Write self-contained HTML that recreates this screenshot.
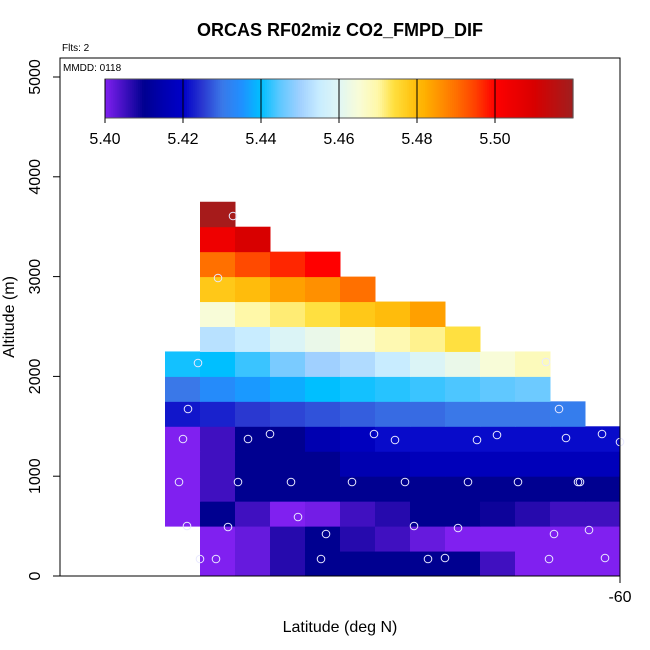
<!DOCTYPE html>
<html><head><meta charset="utf-8"><style>
body{margin:0;background:#fff;font-family:"Liberation Sans",sans-serif}
svg{display:block}
</style></head><body>
<svg id="c" width="650" height="650" xmlns="http://www.w3.org/2000/svg"></svg>
<script>
const altEdges=[0,250,500,750,1000,1250,1500,1750,2000,2250,2500,2750,3000,3250,3500,3750];
const colLeftLat=[-63.25,-63.0,-62.75,-62.5,-62.25,-62.0,-61.75,-61.5,-61.25,-61.0,-60.75,-60.5,-60.25];
const cellW=0.25;
const rowVals=[
[null,5.400,5.402,5.407,5.410,5.410,5.410,5.410,5.410,5.405,5.400,5.400,5.400],
[null,5.400,5.402,5.407,5.410,5.407,5.405,5.402,5.400,5.400,5.400,5.400,5.400],
[5.400,5.410,5.405,5.400,5.401,5.405,5.407,5.410,5.410,5.409,5.407,5.405,5.405],
[5.400,5.405,5.410,5.410,5.410,5.410,5.410,5.410,5.410,5.410,5.410,5.410,5.410],
[5.400,5.405,5.410,5.410,5.410,5.415,5.415,5.417,5.417,5.417,5.417,5.417,5.417],
[5.400,5.405,5.410,5.410,5.415,5.418,5.421,5.421,5.421,5.421,5.421,5.421,5.421],
[5.422,5.423,5.425,5.426,5.427,5.428,5.429,5.429,5.430,5.430,5.430,5.431,null],
[5.430,5.434,5.436,5.438,5.440,5.441,5.442,5.443,5.444,5.445,5.446,null,null],
[5.441,5.440,5.443,5.447,5.450,5.452,5.455,5.459,5.462,5.465,5.468,null,null],
[null,5.453,5.455,5.459,5.462,5.465,5.469,5.471,5.474,null,null,null,null],
[null,5.465,5.470,5.472,5.474,5.478,5.480,5.484,null,null,null,null,null],
[null,5.478,5.480,5.484,5.486,5.490,null,null,null,null,null,null,null],
[null,5.490,5.494,5.497,5.500,null,null,null,null,null,null,null,null],
[null,5.504,5.510,null,null,null,null,null,null,null,null,null,null],
[null,5.519,null,null,null,null,null,null,null,null,null,null,null]
];
const ptX=[233,218,198,188,183,248,270,374,395,477,497,566,602,620,179,238,291,352,405,468,518,578,580,187,228,298,326,414,458,554,589,200,216,321,428,445,549,605,559,546];
const ptY=[216,278,363,409,439,439,434,434,440,440,435,438,434,442,482,482,482,482,482,482,482,482,482,526,527,517,534,526,528,534,530,559,559,559,559,558,559,558,409,362];
const yTicks=[0,1000,2000,3000,4000,5000];
const cbTicks=[5.40,5.42,5.44,5.46,5.48,5.50];
const cbMin=5.40,cbMax=5.52;
const stops=[[5.400,'#8020f0'],[5.405,'#4010c0'],[5.410,'#000090'],[5.415,'#0000b0'],[5.420,'#0000c8'],[5.425,'#2a38d0'],[5.430,'#3a78e8'],[5.435,'#2090ff'],[5.440,'#00bfff'],[5.445,'#60c8ff'],[5.450,'#a0d0ff'],[5.455,'#c8ecff'],[5.460,'#e0f6f4'],[5.465,'#f8fcd8'],[5.470,'#fff8a8'],[5.474,'#ffe040'],[5.478,'#ffc818'],[5.482,'#ffb000'],[5.486,'#ff9000'],[5.490,'#ff7000'],[5.495,'#ff4000'],[5.500,'#ff0000'],[5.510,'#d80000'],[5.520,'#a01e1e']];
const NS='http://www.w3.org/2000/svg';
const svg=document.getElementById('c');
const P={l:60,r:620,t:58,b:576};
const xS=lat=>620+(lat+60)*140;
const yS=a=>576-a*0.0998;
const latOfPx=px=>-60+(px-620)/140;
const altOfPx=py=>(576-py)/0.0998;
const cbX=v=>105+(v-cbMin)/(cbMax-cbMin)*468;
function hex(c){return [1,3,5].map(i=>parseInt(c.substr(i,2),16));}
function cmap(v){
 if(v<=stops[0][0])return stops[0][1];
 for(let i=1;i<stops.length;i++){if(v<=stops[i][0]){const a=stops[i-1],b=stops[i];const t=(v-a[0])/(b[0]-a[0]);const ca=hex(a[1]),cb=hex(b[1]);return 'rgb('+ca.map((x,k)=>Math.round(x+(cb[k]-x)*t)).join(',')+')';}}
 return stops[stops.length-1][1];
}
function mk(tag,attrs,name,txt){const e=document.createElementNS(NS,tag);for(const k in attrs)e.setAttribute(k,attrs[k]);
 
 
 if(txt!==undefined)e.textContent=txt;svg.appendChild(e);return e;}
rowVals.forEach((row,r)=>row.forEach((v,c)=>{if(v===null)return;
 const x0=xS(colLeftLat[c]),x1=xS(colLeftLat[c]+cellW),y0=yS(altEdges[r+1]),y1=yS(altEdges[r]);
 mk('rect',{x:x0,y:y0,width:x1-x0+0.5,height:y1-y0+0.5,fill:cmap(v)},'heatmap-cell');
}));
ptX.forEach((px,i)=>{const lat=latOfPx(px),alt=altOfPx(ptY[i]);
 mk('circle',{cx:xS(lat),cy:yS(alt),r:3.8,fill:'none',stroke:'#e8e8ff','stroke-width':1},'flight-point');});
mk('rect',{x:P.l,y:P.t,width:P.r-P.l,height:P.b-P.t,fill:'none',stroke:'#000','stroke-width':1},'plot-frame');
yTicks.forEach(t=>{const y=yS(t);
 mk('line',{x1:P.l,x2:P.l-7,y1:y,y2:y,stroke:'#000'},'y-tick');
 mk('text',{x:40,y:y,transform:'rotate(-90 40 '+y+')','text-anchor':'middle','font-size':16},'y-tick-label',String(t));});
mk('line',{x1:620,x2:620,y1:P.b,y2:P.b+7,stroke:'#000'},'x-tick');
mk('text',{x:620,y:602,'text-anchor':'middle','font-size':16},'x-tick-label','-60');
const N=240;
for(let i=0;i<N;i++){const v=cbMin+(cbMax-cbMin)*i/N;
 mk('rect',{x:cbX(v),y:79,width:468/N+0.6,height:39,fill:cmap(v+(cbMax-cbMin)/N/2)},'colorbar-swatch');}
mk('rect',{x:105,y:79,width:468,height:39,fill:'none',stroke:'#555'},'colorbar-frame');
cbTicks.forEach(t=>{const x=cbX(t);
 mk('line',{x1:x,x2:x,y1:79,y2:123,stroke:'#000'},'colorbar-tick');
 mk('text',{x:x,y:144,'text-anchor':'middle','font-size':16},'colorbar-tick-label',t.toFixed(2));});
mk('text',{x:340,y:36,'text-anchor':'middle','font-size':18,'font-weight':'bold'},'chart-title','ORCAS RF02miz CO2_FMPD_DIF');
mk('text',{x:62,y:51,'font-size':10},'flights-note','Flts: 2');
mk('text',{x:63,y:71,'font-size':10},'date-note','MMDD: 0118');
mk('text',{x:340,y:632,'text-anchor':'middle','font-size':16},'x-axis-title','Latitude (deg N)');
mk('text',{x:14,y:317,transform:'rotate(-90 14 317)','text-anchor':'middle','font-size':16},'y-axis-title','Altitude (m)');
</script>
</body></html>
